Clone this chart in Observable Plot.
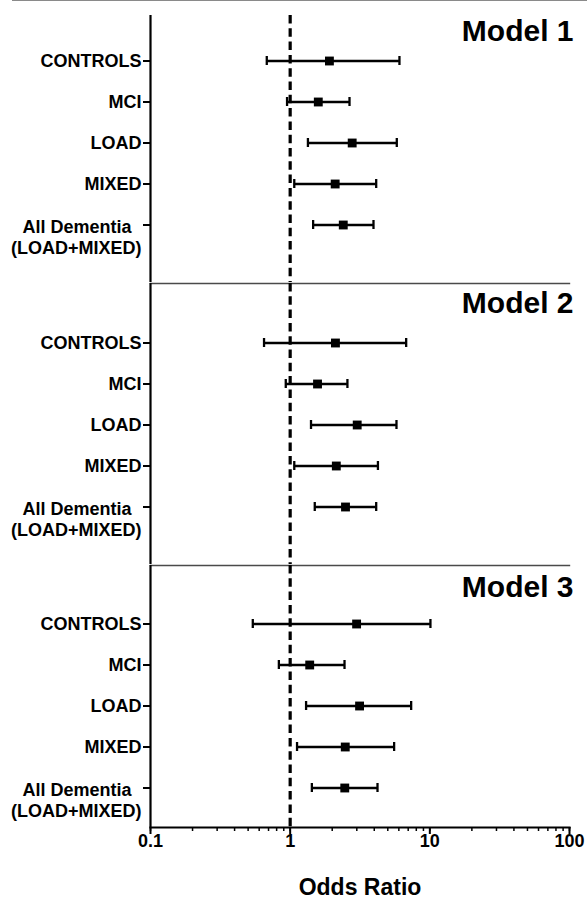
<!DOCTYPE html>
<html><head><meta charset="utf-8">
<script src="https://cdn.jsdelivr.net/npm/d3@7"></script>
<script src="https://cdn.jsdelivr.net/npm/@observablehq/plot@0.6"></script>
<style>
body{margin:0;background:#fff;}
#chart{position:relative;width:587px;height:898px;font-family:"Liberation Sans",Arial,Helvetica,sans-serif;}
#topline{position:absolute;left:12px;right:0;top:0;border-top:1.5px solid #8a8a8a;}
#chart svg{display:block;}
</style></head><body>
<div id="chart"><div id="topline"></div></div>
<script>
const FONT = '"Liberation Sans", Arial, Helvetica, sans-serif';
const models = ["Model 1", "Model 2", "Model 3"];
const groups = ["CONTROLS", "MCI", "LOAD", "MIXED", "All Dementia"];
const groupLabels = ["CONTROLS", "MCI", "LOAD", "MIXED", "All Dementia\u00a0\u00a0\n(LOAD+MIXED)"];

// Model 1
const or1 = [1.91, 1.59, 2.78, 2.10, 2.40];
const lo1 = [0.68, 0.95, 1.34, 1.07, 1.46];
const hi1 = [6.06, 2.66, 5.80, 4.13, 3.95];
// Model 2
const or2 = [2.11, 1.57, 3.02, 2.14, 2.49];
const lo2 = [0.65, 0.93, 1.41, 1.07, 1.50];
const hi2 = [6.77, 2.57, 5.77, 4.25, 4.13];
// Model 3
const or3 = [2.99, 1.38, 3.14, 2.48, 2.46];
const lo3 = [0.54, 0.83, 1.30, 1.12, 1.43];
const hi3 = [10.1, 2.45, 7.35, 5.55, 4.22];

const xTicks = [0.1, 1, 10, 100];
const xLabel = "Odds Ratio";

const seriesOR = [or1, or2, or3];
const seriesLo = [lo1, lo2, lo3];
const seriesHi = [hi1, hi2, hi3];

// layout per panel (pixels)
const layout = [
  {height: 282, mt: 15, mb: 0, it: 24.5, ib: 37.5, tdy: 15.5, top: false},
  {height: 282, mt: 1, mb: 0, it: 38.5, ib: 37.5, tdy: 20.3, top: true},
  {height: 334, mt: 1, mb: 71, it: 38, ib: 18.5, tdy: 21.7, top: true}
];
const capInset = 16;

const minorTicks = d3.scaleLog().domain([0.1, 100]).ticks();

const chart = document.getElementById("chart");

models.forEach((m, k) => {
  const rows = groups.map((g, i) => ({
    group: g, label: groupLabels[i],
    or: seriesOR[k][i], lo: seriesLo[k][i], hi: seriesHi[k][i]
  }));
  const cfg = layout[k];
  const last = k === models.length - 1;
  const marks = [
    cfg.top ? Plot.frame({anchor: "top", stroke: "#4a4a4a", strokeWidth: 1.4}) : null,
    Plot.ruleX([0.1], {strokeWidth: 2.2}),
    Plot.ruleX([1], {strokeWidth: 3.2, strokeDasharray: "8.5,4.8"}),
    Plot.axisY({tickSize: 7, tickFormat: () => "", strokeWidth: 2, label: null}),
    Plot.text(rows.filter(d => !d.label.includes("\n")), {
      y: "group", text: "label", frameAnchor: "left", textAnchor: "end", dx: -9,
      fontSize: 18, fontWeight: "bold", fill: "black"
    }),
    Plot.text(rows.filter(d => d.label.includes("\n")), {
      y: "group", text: "label", frameAnchor: "left", textAnchor: "end", dx: -9,
      lineAnchor: "top", dy: -6.5, lineHeight: 1.15,
      fontSize: 18, fontWeight: "bold", fill: "black"
    }),
    Plot.ruleY(rows, {y: "group", x1: "lo", x2: "hi", strokeWidth: 2.3}),
    Plot.tickX(rows, {x: "lo", y: "group", insetTop: capInset, insetBottom: capInset, strokeWidth: 2.3}),
    Plot.tickX(rows, {x: "hi", y: "group", insetTop: capInset, insetBottom: capInset, strokeWidth: 2.3}),
    Plot.dot(rows, {x: "or", y: "group", symbol: "square", r: 5, fill: "black", stroke: null}),
    Plot.text([m], {
      frameAnchor: "top-right", textAnchor: "end", dx: 4, dy: cfg.tdy, lineAnchor: "middle",
      fontSize: 30, fontWeight: "bold", fill: "black"
    })
  ];
  if (last) {
    marks.push(
      Plot.frame({anchor: "bottom", strokeWidth: 2.2}),
      Plot.axisX({ticks: minorTicks, tickSize: 4, tickFormat: () => "", strokeWidth: 1.5, label: null}),
      Plot.axisX({ticks: xTicks, tickSize: 7, tickPadding: 0, tickFormat: d3.format("~g"),
        fontSize: 18, fontWeight: "bold", strokeWidth: 2, label: null, fill: "black"}),
      Plot.text([xLabel], {frameAnchor: "bottom", dy: 67, lineAnchor: "bottom",
        fontSize: 23, fontWeight: "bold", fill: "black"})
    );
  }
  const svg = Plot.plot({
    width: 587, height: cfg.height,
    marginLeft: 150, marginRight: 18, marginTop: cfg.mt, marginBottom: cfg.mb,
    style: {fontFamily: FONT, background: "transparent", color: "black", overflow: "visible"},
    x: {type: "log", domain: [0.1, 100], axis: last ? undefined : null},
    y: {type: "band", domain: groups, padding: 0, insetTop: cfg.it, insetBottom: cfg.ib},
    marks
  });
  chart.appendChild(svg);
});
</script>
</body></html>
